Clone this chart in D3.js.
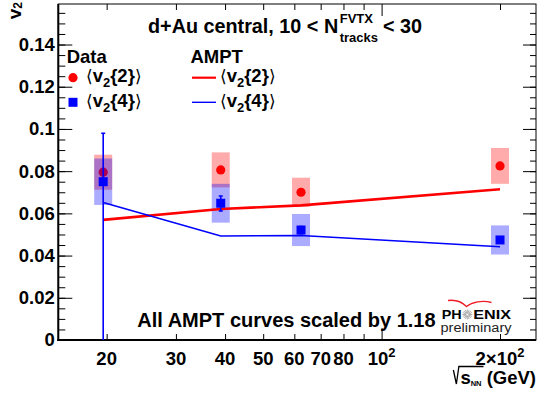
<!DOCTYPE html>
<html>
<head>
<meta charset="utf-8">
<script src="https://cdn.jsdelivr.net/npm/d3@7"></script>
<style>
  body { margin: 0; background: #fff; }
  svg { display: block; font-family: "Liberation Sans", Arial, Helvetica, sans-serif; }
</style>
</head>
<body>
<div id="chart"></div>
<script>
// collision energies (GeV)
const energies = [19.6, 39, 62.4, 200];

// PHENIX data, <v2{2}>
const v22 = [0.0795, 0.0806, 0.0700, 0.0825];
const v22Stat = [0.0015, 0.0015, 0.0015, 0.0015];
const v22Sys = [0.0083, 0.0083, 0.0069, 0.0085];

// PHENIX data, <v2{4}>
const v24 = [0.0750, 0.0648, 0.0521, 0.0474];
const v24StatHi = [0.0230, 0.0034, 0.0017, 0.0015];
const v24StatLo = [0.0800, 0.0037, 0.0017, 0.0015];
const v24Sys = [0.0110, 0.0092, 0.0076, 0.0069];

// AMPT curves (already scaled by 1.18)
const amptV22 = [0.0569, 0.0621, 0.0638, 0.0714];
const amptV24 = [0.0651, 0.0493, 0.0495, 0.0442];

// axes
const yTicks = [0, 0.02, 0.04, 0.06, 0.08, 0.1, 0.12, 0.14];
const yTickLabels = ['0', '0.02', '0.04', '0.06', '0.08', '0.1', '0.12', '0.14'];
const xLabelValues = [20, 30, 40, 50, 60, 70, 80, 100, 200];
const xTickLabels = ['20', '30', '40', '50', '60', '70', '80', '10^2', '2\u00d710^2'];
const xMinorTicks = [20, 30, 40, 50, 60, 70, 80, 90, 200];
const xMajorTicks = [100];

const width = 537, height = 396;
const margin = { top: 4, right: 1, bottom: 56, left: 58.3 };
const innerW = width - margin.left - margin.right;
const innerH = height - margin.top - margin.bottom;

const svg = d3.select('#chart').append('svg')
  .attr('width', width)
  .attr('height', height);

const x = d3.scaleLog()
  .domain([15.07, 246.9])
  .range([margin.left, margin.left + innerW]);
const y = d3.scaleLinear()
  .domain([0, 0.1592])
  .range([margin.top + innerH, margin.top]);

const x0 = margin.left, x1 = margin.left + innerW;
const y0 = margin.top + innerH, y1 = margin.top;

svg.append('clipPath').attr('id', 'plotclip')
  .append('rect')
  .attr('x', x0).attr('y', y1).attr('width', innerW).attr('height', innerH);

// ---- ticks ----
const yMinor = d3.range(0, 32).map(i => +(i * 0.005).toFixed(3)).filter(v => v <= y.domain()[1]);

function tickGroup(axis, tx, ty) {
  const g = svg.append('g').attr('transform', `translate(${tx},${ty})`).call(axis);
  g.select('.domain').remove();
  g.selectAll('line').attr('stroke', '#000').attr('stroke-width', 1);
  return g;
}
// left
tickGroup(d3.axisLeft(y).tickValues(yMinor).tickSize(-7).tickFormat(''), x0, 0);
const yAx = tickGroup(d3.axisLeft(y).tickValues(yTicks).tickSize(-14).tickPadding(3.5)
  .tickFormat((d, i) => yTickLabels[i]), x0, 0);
yAx.selectAll('text')
  .attr('font-size', 18.5).attr('font-weight', 'bold')
  .attr('font-family', '"Liberation Sans", Arial, sans-serif').attr('fill', '#000');
// right
tickGroup(d3.axisRight(y).tickValues(yMinor).tickSize(-6).tickFormat(''), x1, 0);
tickGroup(d3.axisRight(y).tickValues(yTicks).tickSize(-13).tickFormat(''), x1, 0);
// bottom
tickGroup(d3.axisBottom(x).tickValues(xMinorTicks).tickSize(-6).tickFormat(''), 0, y0);
tickGroup(d3.axisBottom(x).tickValues(xMajorTicks).tickSize(-12).tickFormat(''), 0, y0);
// top
tickGroup(d3.axisTop(x).tickValues(xMinorTicks).tickSize(-6).tickFormat(''), 0, y1);
tickGroup(d3.axisTop(x).tickValues(xMajorTicks).tickSize(-12).tickFormat(''), 0, y1);

// x tick labels (with superscripts)
xLabelValues.forEach((v, i) => {
  const t = svg.append('text')
    .attr('x', x(v)).attr('y', 364.5)
    .attr('text-anchor', 'middle')
    .attr('font-size', 18.5).attr('font-weight', 'bold');
  const parts = xTickLabels[i].split('^');
  t.append('tspan').text(parts[0]);
  if (parts[1]) t.append('tspan').attr('dy', -8).attr('font-size', 13).text(parts[1]);
});

// frame
svg.append('rect')
  .attr('x', x0).attr('y', y1).attr('width', innerW).attr('height', innerH)
  .attr('fill', 'none').attr('stroke', '#000').attr('stroke-width', 1);
svg.append('line').attr('x1', x0).attr('x2', x0).attr('y1', y1).attr('y2', y0 + 1)
  .attr('stroke', '#000').attr('stroke-width', 2);
svg.append('line').attr('x1', x0 - 1).attr('x2', x1).attr('y1', y0).attr('y2', y0)
  .attr('stroke', '#000').attr('stroke-width', 2);

// ---- data ----
const plot = svg.append('g').attr('clip-path', 'url(#plotclip)');
const boxHalf = 9;
const idx = d3.range(energies.length);

// red systematic boxes
plot.selectAll('.sys22').data(idx).enter().append('rect')
  .attr('x', i => x(energies[i]) - boxHalf)
  .attr('width', boxHalf * 2)
  .attr('y', i => y(v22[i] + v22Sys[i]))
  .attr('height', i => y(v22[i] - v22Sys[i]) - y(v22[i] + v22Sys[i]))
  .attr('fill', '#ff0000').attr('fill-opacity', 0.33);

// red stat bars and markers
plot.selectAll('.err22').data(idx).enter().append('line')
  .attr('x1', i => x(energies[i])).attr('x2', i => x(energies[i]))
  .attr('y1', i => y(v22[i] + v22Stat[i])).attr('y2', i => y(v22[i] - v22Stat[i]))
  .attr('stroke', '#ff0000').attr('stroke-width', 1.5);
plot.selectAll('.pt22').data(idx).enter().append('circle')
  .attr('cx', i => x(energies[i]))
  .attr('cy', i => y(v22[i]))
  .attr('r', 4.6)
  .attr('fill', '#ff0000');

// blue systematic boxes
plot.selectAll('.sys24').data(idx).enter().append('rect')
  .attr('x', i => x(energies[i]) - boxHalf)
  .attr('width', boxHalf * 2)
  .attr('y', i => y(v24[i] + v24Sys[i]))
  .attr('height', i => y(v24[i] - v24Sys[i]) - y(v24[i] + v24Sys[i]))
  .attr('fill', '#0000ff').attr('fill-opacity', 0.33);

// AMPT curves
const line = d3.line().x(d => x(d[0])).y(d => y(d[1]));
plot.append('path')
  .datum(energies.map((e, i) => [e, amptV22[i]]))
  .attr('fill', 'none').attr('stroke', '#ff0000').attr('stroke-width', 2.6)
  .attr('d', line);
plot.append('path')
  .datum(energies.map((e, i) => [e, amptV24[i]]))
  .attr('fill', 'none').attr('stroke', '#0000ff').attr('stroke-width', 1.6)
  .attr('d', line);

// blue stat bars and markers
plot.selectAll('.err24').data(idx).enter().append('line')
  .attr('x1', i => x(energies[i])).attr('x2', i => x(energies[i]))
  .attr('y1', i => y(v24[i] + v24StatHi[i])).attr('y2', i => y(v24[i] - v24StatLo[i]))
  .attr('stroke', '#0000ff').attr('stroke-width', 1.6);
plot.selectAll('.cap24').data(idx).enter().append('path')
  .attr('d', i => {
    const cx = x(energies[i]);
    const a = y(v24[i] + v24StatHi[i]), b = y(v24[i] - v24StatLo[i]);
    return `M${cx - 2},${a}H${cx + 2}M${cx - 2},${b}H${cx + 2}`;
  })
  .attr('stroke', '#0000ff').attr('stroke-width', 1.5);
plot.selectAll('.pt24').data(idx).enter().append('rect')
  .attr('x', i => x(energies[i]) - 4.5)
  .attr('y', i => y(v24[i]) - 4.5)
  .attr('width', 9).attr('height', 9)
  .attr('fill', '#0000ff');

// ---- titles ----
// y title
const yt = svg.append('text')
  .attr('transform', 'translate(21,2) rotate(-90)')
  .attr('text-anchor', 'end')
  .attr('font-size', 19).attr('font-weight', 'bold');
yt.append('tspan').text('v');
yt.append('tspan').attr('dy', 1).attr('font-size', 12).text('2');

// x title: sqrt(s_NN) (GeV)
const xt = svg.append('text')
  .attr('x', 536).attr('y', 384)
  .attr('text-anchor', 'end')
  .attr('font-size', 18.5).attr('font-weight', 'bold');
xt.append('tspan').text('s');
xt.append('tspan').attr('dy', 2).attr('font-size', 7.5).text('NN');
xt.append('tspan').attr('dy', -2).text('\u00a0(GeV)');
{
  const sx = xt.node().getStartPositionOfChar(0).x;
  const nnEnd = xt.node().getEndPositionOfChar(2).x;
  svg.append('path')
    .attr('d', `M${sx - 7},370 L${sx - 4},384 L${sx - 1.5},366.5 H${nnEnd + 2}`)
    .attr('fill', 'none').attr('stroke', '#000').attr('stroke-width', 1.3);
}

// main title
const t1 = svg.append('text')
  .attr('x', 148).attr('y', 33.3)
  .attr('font-size', 19.8).attr('font-weight', 'bold')
  .text('d+Au central, 10 < N');
const nEnd = 148 + t1.node().getComputedTextLength();
const sup = svg.append('text').attr('x', nEnd + 1.5).attr('y', 23.3)
  .attr('font-size', 13).attr('font-weight', 'bold').text('FVTX');
const sub = svg.append('text').attr('x', nEnd + 1.5).attr('y', 41.7)
  .attr('font-size', 13).attr('font-weight', 'bold').text('tracks');
const scriptEnd = nEnd + 1.5 + Math.max(sup.node().getComputedTextLength(), sub.node().getComputedTextLength());
svg.append('text').attr('x', scriptEnd + 5).attr('y', 33.3)
  .attr('font-size', 19.8).attr('font-weight', 'bold')
  .text('< 30');

// legend
const legendFont = 18.5;
svg.append('text').attr('x', 66.7).attr('y', 62.5)
  .attr('font-size', legendFont).attr('font-weight', 'bold').text('Data');
svg.append('text').attr('x', 190.5).attr('y', 62.5)
  .attr('font-size', legendFont).attr('font-weight', 'bold').text('AMPT');

function legendLabel(lx, ly, order) {
  const t = svg.append('text').attr('x', lx).attr('y', ly)
    .attr('font-size', legendFont).attr('font-weight', 'bold');
  t.append('tspan').attr('font-weight', 'normal').attr('font-family', '"DejaVu Sans", sans-serif')
    .attr('font-size', 17).text('\u27e8');
  t.append('tspan').text('v');
  t.append('tspan').attr('dy', 5).attr('font-size', 13).text('2');
  t.append('tspan').attr('dy', -5).text(`{${order}}`);
  t.append('tspan').attr('font-weight', 'normal').attr('font-family', '"DejaVu Sans", sans-serif')
    .attr('font-size', 17).text('\u27e9');
}
svg.append('circle').attr('cx', 73).attr('cy', 77.7).attr('r', 4.6).attr('fill', '#ff0000');
svg.append('rect').attr('x', 68.5).attr('y', 97.8).attr('width', 9).attr('height', 9).attr('fill', '#0000ff');
legendLabel(86, 82, 2);
legendLabel(86, 106.5, 4);
svg.append('line').attr('x1', 192).attr('x2', 216).attr('y1', 77.7).attr('y2', 77.7)
  .attr('stroke', '#ff0000').attr('stroke-width', 2.2);
svg.append('line').attr('x1', 192).attr('x2', 216).attr('y1', 102.3).attr('y2', 102.3)
  .attr('stroke', '#0000ff').attr('stroke-width', 1.4);
legendLabel(220, 82, 2);
legendLabel(220, 106.5, 4);

// scaling note
svg.append('text').attr('x', 137.3).attr('y', 326.5)
  .attr('font-size', 20).attr('font-weight', 'bold')
  .text('All AMPT curves scaled by 1.18');

// PHENIX preliminary logo
svg.append('text').attr('x', 441.7).attr('y', 319)
  .attr('font-size', 12.5).attr('font-weight', 'bold')
  .attr('textLength', 20).attr('lengthAdjust', 'spacingAndGlyphs').text('PH');
svg.append('text').attr('x', 473.3).attr('y', 319)
  .attr('font-size', 12.5).attr('font-weight', 'bold')
  .attr('textLength', 37.7).attr('lengthAdjust', 'spacingAndGlyphs').text('ENIX');
const star = svg.append('g').attr('transform', 'translate(467.3,314.5)');
d3.range(16).forEach(k => {
  const a = k * Math.PI / 8;
  star.append('line')
    .attr('x1', 1.2 * Math.cos(a)).attr('y1', 1.2 * Math.sin(a))
    .attr('x2', 5 * Math.cos(a)).attr('y2', 5 * Math.sin(a))
    .attr('stroke', '#999').attr('stroke-width', 0.8);
});
svg.append('path')
  .attr('d', 'M448,300.5 C455,299.5 462,302 466.5,306.5 C472,302 482,300 491.5,302.5')
  .attr('fill', 'none').attr('stroke', '#ee1c24').attr('stroke-width', 1.3);
svg.append('text').attr('x', 440.5).attr('y', 332)
  .attr('font-size', 12.5).attr('fill', '#222')
  .attr('textLength', 71).attr('lengthAdjust', 'spacingAndGlyphs').text('preliminary');
</script>
</body>
</html>
